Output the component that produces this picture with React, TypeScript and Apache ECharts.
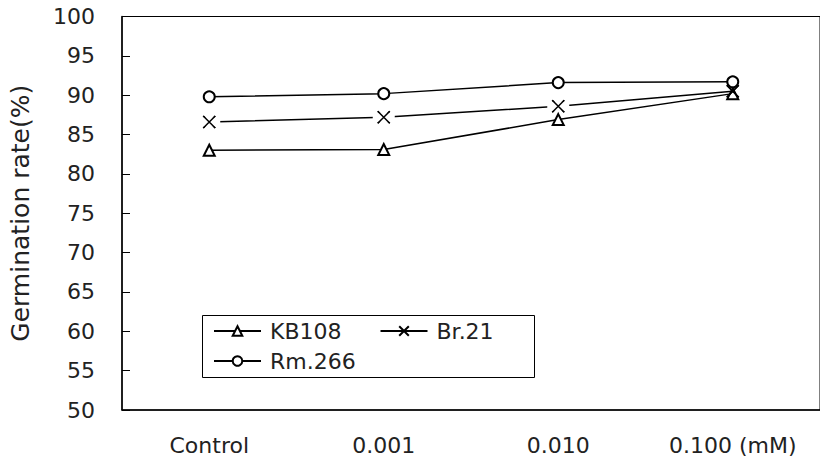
import React, { useEffect, useRef } from "react";
import * as echarts from "echarts";

// Concentration levels on the x axis
const categories = ["Control", "0.001", "0.010", "0.100 (mM)"];

// Germination rate (%) per cultivar
const kb108 = [83.0, 83.1, 86.9, 90.2];
const br21 = [86.6, 87.2, 88.6, 90.5];
const rm266 = [89.8, 90.2, 91.6, 91.7];

// Br.21 points where its line is broken around the marker (all but the last)
const br21GapPoints = br21.slice(0, 3).map((v, i) => [i, v]);
const br21Points = br21.map((v, i) => [i, v]);

const FONT = "DejaVu Sans, Verdana, sans-serif";
const INK = "#222";
const FS = 22;
const X_MARK = "path://M0,0L10,10M10,0L0,10";

export default function App() {
  const ref = useRef<HTMLDivElement>(null);

  useEffect(() => {
    if (!ref.current) return;
    const chart = echarts.init(ref.current, undefined, { renderer: "svg" });

    const lineCommon = {
      type: "line" as const,
      z: 2,
      lineStyle: { color: "#000", width: 1.5 },
      itemStyle: { color: "#000", borderColor: "#000", borderWidth: 1.5 },
      emphasis: { disabled: true },
    };

    const legendCommon = {
      left: 213,
      padding: 0,
      itemGap: 38,
      itemWidth: 47,
      itemHeight: 12,
      textStyle: { fontSize: FS, fontFamily: FONT, color: INK, padding: [0, 0, 0, 4] },
    };

    chart.setOption({
      animation: false,
      backgroundColor: "#fff",
      textStyle: { fontFamily: FONT, color: INK },
      grid: {
        left: 122,
        top: 16.5,
        width: 703,
        height: 393.5,
        show: true,
        borderColor: "#000",
        borderWidth: 1,
        backgroundColor: "transparent",
      },
      graphic: [
        {
          // legend frame
          type: "rect",
          z: 50,
          silent: true,
          shape: { x: 202.5, y: 315.5, width: 332, height: 62 },
          style: { fill: "#fff", stroke: "#000", lineWidth: 1 },
        },
      ],
      legend: [
        { ...legendCommon, top: 320, z: 60, data: ["KB108", "Br.21"] },
        { ...legendCommon, top: 350, z: 60, data: ["Rm.266"] },
      ],
      xAxis: {
        type: "category",
        data: categories,
        boundaryGap: true,
        axisLine: { lineStyle: { color: "#000", width: 1.5 } },
        axisTick: { show: false },
        axisLabel: { fontSize: FS, fontFamily: FONT, color: INK, margin: 24 },
        splitLine: { show: false },
      },
      yAxis: {
        type: "value",
        min: 50,
        max: 100,
        interval: 5,
        name: "Germination rate(%)",
        nameLocation: "middle",
        nameGap: 89,
        nameTextStyle: { fontSize: 25, fontFamily: FONT, color: INK },
        axisLine: { show: true, lineStyle: { color: "#000", width: 1.5 } },
        axisTick: { show: true, inside: true, length: 8, lineStyle: { color: "#000", width: 1 } },
        axisLabel: { fontSize: FS, fontFamily: FONT, color: INK, margin: 27 },
        splitLine: { show: false },
      },
      series: [
        {
          ...lineCommon,
          name: "KB108",
          data: kb108,
          symbol: "emptyTriangle",
          symbolSize: 11,
        },
        {
          ...lineCommon,
          name: "Br.21",
          data: br21,
          symbol: X_MARK,
          symbolSize: 12,
        },
        {
          ...lineCommon,
          name: "Rm.266",
          data: rm266,
          symbol: "emptyCircle",
          symbolSize: 11,
        },
        {
          // white patches that open the Br.21 line around its markers
          name: "br21-gap",
          type: "scatter",
          zlevel: 1,
          z: 10,
          silent: true,
          data: br21GapPoints,
          symbol: "rect",
          symbolSize: [22, 9],
          itemStyle: { color: "#fff", opacity: 1 },
        },
        {
          name: "br21-mark",
          type: "scatter",
          zlevel: 1,
          z: 11,
          silent: true,
          data: br21Points,
          symbol: X_MARK,
          symbolSize: 12,
          itemStyle: { color: "#000", borderColor: "#000", borderWidth: 1.5, opacity: 1 },
        },
      ],
    });

    return () => chart.dispose();
  }, []);

  return (
    <div
      ref={ref}
      style={{ position: "fixed", left: 0, top: 0, width: 820, height: 465 }}
    />
  );
}
